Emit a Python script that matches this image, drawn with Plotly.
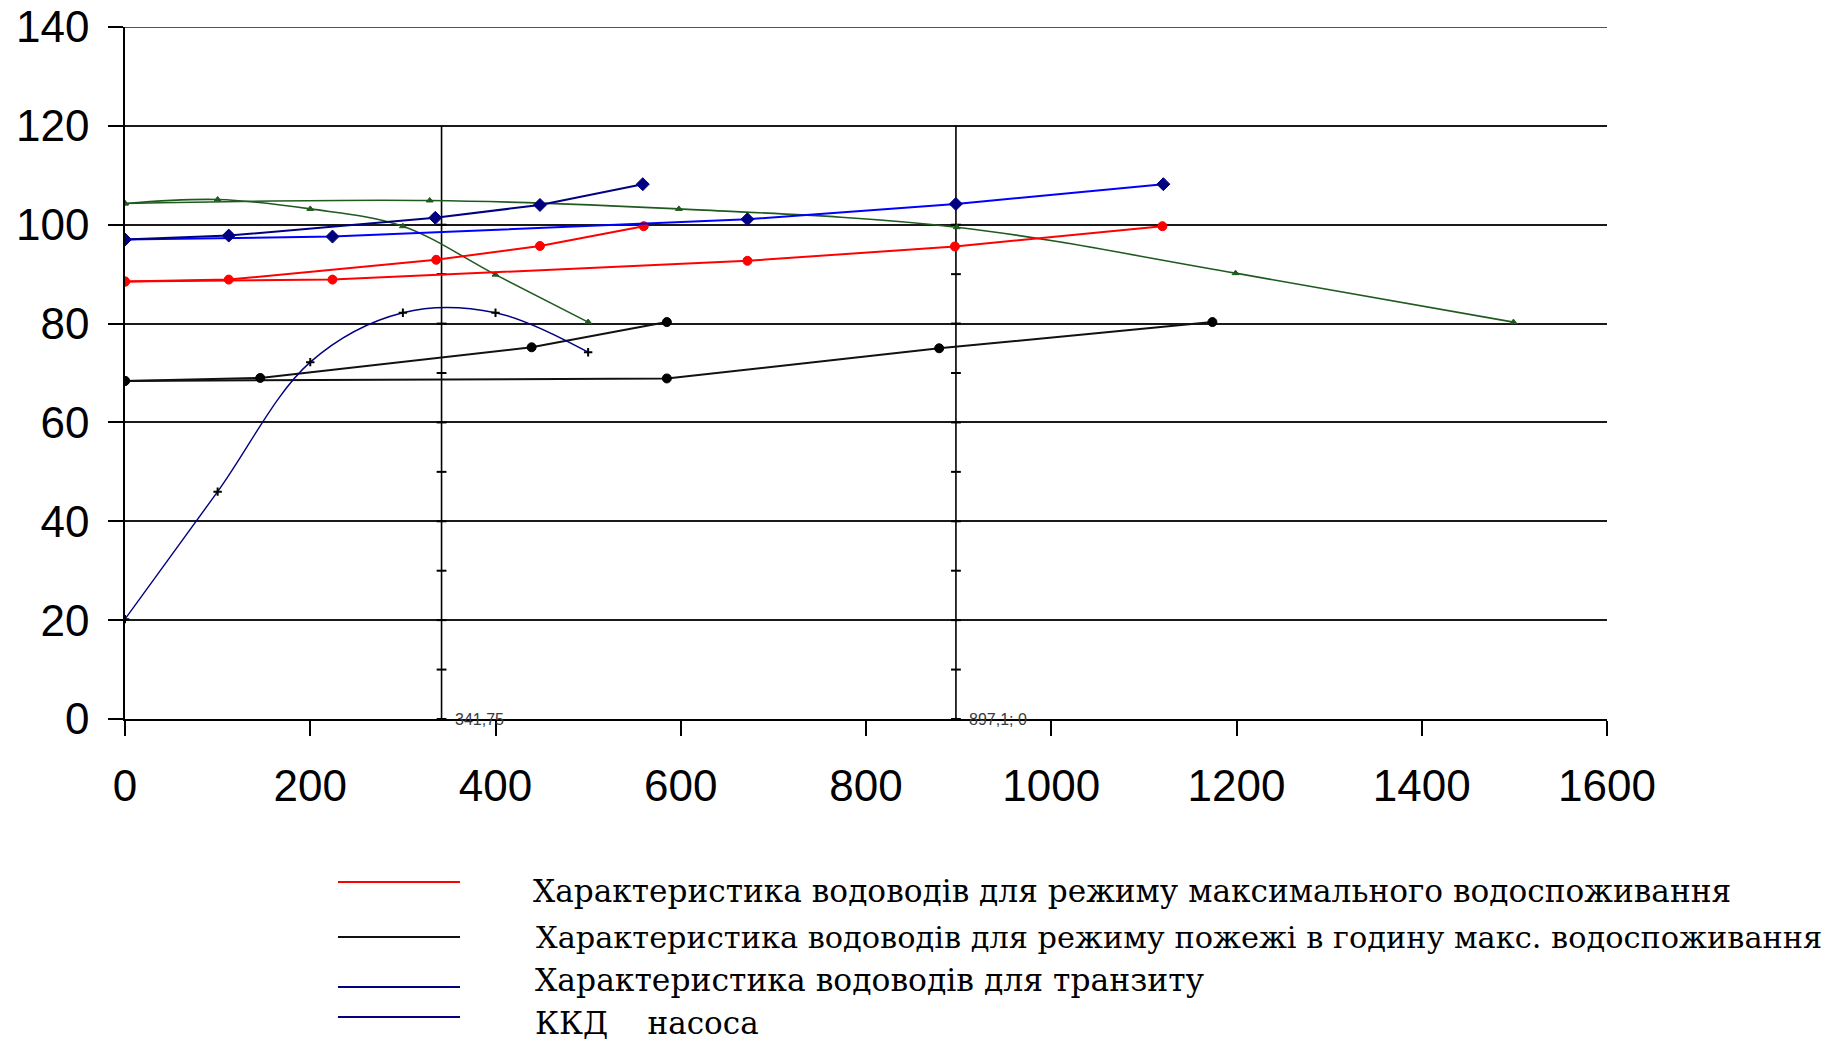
import plotly.graph_objects as go

# ---------------- data ----------------
# Characteristic of pipelines, maximum water consumption (1 line / 2 lines)
q_max_1 = [0, 112, 336, 448, 560]
h_max_1 = [88.5, 88.9, 92.9, 95.7, 99.7]
q_max_2 = [0, 224, 672, 896, 1120]
h_max_2 = [88.5, 88.9, 92.7, 95.6, 99.7]

# Fire mode during max consumption hour
q_fire_1 = [0, 146, 439, 585]
h_fire_1 = [68.4, 69.0, 75.2, 80.3]
q_fire_2 = [0, 585, 879, 1174]
h_fire_2 = [68.4, 68.9, 75.0, 80.3]

# Transit
q_tr_1 = [0, 112, 335, 448, 559]
h_tr_1 = [97.0, 97.8, 101.4, 104.0, 108.2]
q_tr_2 = [0, 224, 672, 897, 1121]
h_tr_2 = [97.0, 97.6, 101.1, 104.2, 108.2]

# Pump Q-H curves (one pump / parallel pumps)
q_pump_1 = [0, 100, 200, 300, 400, 500]
h_pump_1 = [104.3, 105.1, 103.2, 99.7, 89.9, 80.3]
q_pump_2 = [0, 329, 598, 898, 1199, 1499]
h_pump_2 = [104.3, 104.9, 103.2, 99.5, 90.2, 80.3]

# Pump efficiency (ККД)
q_eff = [0, 100, 200, 300, 400, 500]
eff = [20.2, 46.0, 72.2, 82.2, 82.2, 74.2]

# Operating-point verticals
op_q = [341.75, 897.1]
op_labels = ["341,75", "897,1; 0"]
op_line_h = [0, 120]
op_mark_h = [0, 10, 20, 30, 40, 50, 60, 70, 80, 90, 100]

x_ticks = [0, 200, 400, 600, 800, 1000, 1200, 1400, 1600]
y_ticks = [0, 20, 40, 60, 80, 100, 120, 140]

legend_names = [
    "Характеристика водоводів для режиму максимального водоспоживання",
    "Характеристика водоводів для режиму пожежі в годину макс. водоспоживання",
    "Характеристика водоводів для транзиту",
    "ККД\u00a0\u00a0\u00a0\u00a0насоса",
]

# ---------------- styles ----------------
RED = "#FF0000"
BLACK = "#111111"
NAVY = "#000080"
BLUE = "#0000FF"
GREEN = "#1F5A1F"

fig = go.Figure()


def add(x, y, color, mcolor, symbol, msize, width=2, shape="linear"):
    fig.add_trace(go.Scatter(
        x=x, y=y, mode="lines+markers",
        line=dict(color=color, width=width, shape=shape, smoothing=1),
        marker=dict(color=mcolor, symbol=symbol, size=msize,
                    line=dict(color=mcolor, width=1)),
        showlegend=False, hoverinfo="x+y"))


# operating point verticals
for q, lab in zip(op_q, op_labels):
    fig.add_trace(go.Scatter(x=[q] * len(op_line_h), y=op_line_h, mode="lines",
                             line=dict(color="black", width=1.6),
                             showlegend=False, hoverinfo="skip"))
    fig.add_trace(go.Scatter(x=[q] * len(op_mark_h), y=op_mark_h, mode="markers",
                             marker=dict(symbol="line-ew", size=7,
                                         line=dict(color="black", width=2)),
                             showlegend=False, hoverinfo="x+y"))
    fig.add_annotation(x=q, y=0, xref="x", yref="y", text=lab, showarrow=False,
                       xanchor="left", yanchor="middle", xshift=11,
                       font=dict(family="Liberation Sans, Arial", size=16, color="#3a3a3a"))

add(q_pump_1, h_pump_1, GREEN, GREEN, "triangle-up", 6, 1.6, "spline")
add(q_pump_2, h_pump_2, GREEN, GREEN, "triangle-up", 6, 1.6, "spline")
add(q_fire_2, h_fire_2, BLACK, "black", "circle", 9)
add(q_fire_1, h_fire_1, BLACK, "black", "circle", 9)
add(q_max_2, h_max_2, RED, RED, "circle", 9)
add(q_max_1, h_max_1, RED, RED, "circle", 9)
add(q_tr_2, h_tr_2, BLUE, NAVY, "diamond", 10)
add(q_tr_1, h_tr_1, NAVY, NAVY, "diamond", 10)
add(q_eff, eff, NAVY, "black", "cross-thin", 6, 1.4, "spline")
fig.data[-1].marker.line.width = 2

# top gridline at 140 (plotly drops the edge gridline)
fig.add_shape(type="line", xref="x", yref="y", x0=0, x1=1600, y0=140, y1=140,
              line=dict(color="#1a1a1a", width=1.6), layer="below")

# ---------------- page geometry (page px; body margin removed) ----------------
W, H = 1843, 1042
PL, PR, PT, PB = 125, 1607, 27, 719   # plot area in page pixels


def px(x):
    return (x - PL) / (PR - PL)


def py(y):
    return (PB - y) / (PB - PT)


leg_colors = [RED, BLACK, NAVY, NAVY]
leg_line_y = [882, 937, 987, 1017]
leg_text_y = [891, 937, 980, 1023]
leg_text_x = [531, 534, 533, 533]
leg_size = [31.2, 30.4, 31.4, 31]
for name, c, ly, ty, tx, fs in zip(legend_names, leg_colors, leg_line_y,
                                   leg_text_y, leg_text_x, leg_size):
    fig.add_shape(type="line", xref="paper", yref="paper",
                  x0=px(338), x1=px(460), y0=py(ly), y1=py(ly),
                  line=dict(color=c, width=2))
    fig.add_annotation(xref="paper", yref="paper", x=px(tx), y=py(ty),
                       text=name, showarrow=False, xanchor="left", yanchor="middle",
                       font=dict(family="DejaVu Serif", size=fs, color="black"))

fig.update_layout(
    width=W, height=H,
    margin=dict(l=PL, r=W - PR, t=PT, b=H - PB, autoexpand=False),
    paper_bgcolor="white", plot_bgcolor="white",
    showlegend=False,
    font=dict(family="Liberation Sans, Arial", color="black"),
)
fig.update_xaxes(
    range=[0, 1600], tickvals=x_ticks, ticktext=[str(v) for v in x_ticks],
    showgrid=False, zeroline=False,
    showline=True, linecolor="black", linewidth=1.6,
    ticks="outside", ticklen=15, tickwidth=1.6, tickcolor="black",
    tickfont=dict(family="Liberation Sans, Arial", size=44, color="black"),
    ticklabelstandoff=12, ticklabeloverflow="allow",
)
fig.update_yaxes(
    range=[0, 140], tickvals=y_ticks, ticktext=[str(v) for v in y_ticks],
    showgrid=True, gridcolor="#1a1a1a", gridwidth=1.6, zeroline=False,
    showline=True, linecolor="black", linewidth=1.6,
    ticks="outside", ticklen=15, tickwidth=1.6, tickcolor="black",
    tickfont=dict(family="Liberation Sans, Arial", size=44, color="black"),
    ticklabelstandoff=10, ticklabeloverflow="allow",
)

fig.write_html("out.html", config={"displayModeBar": False},
               post_script="document.body.style.margin='0';")
